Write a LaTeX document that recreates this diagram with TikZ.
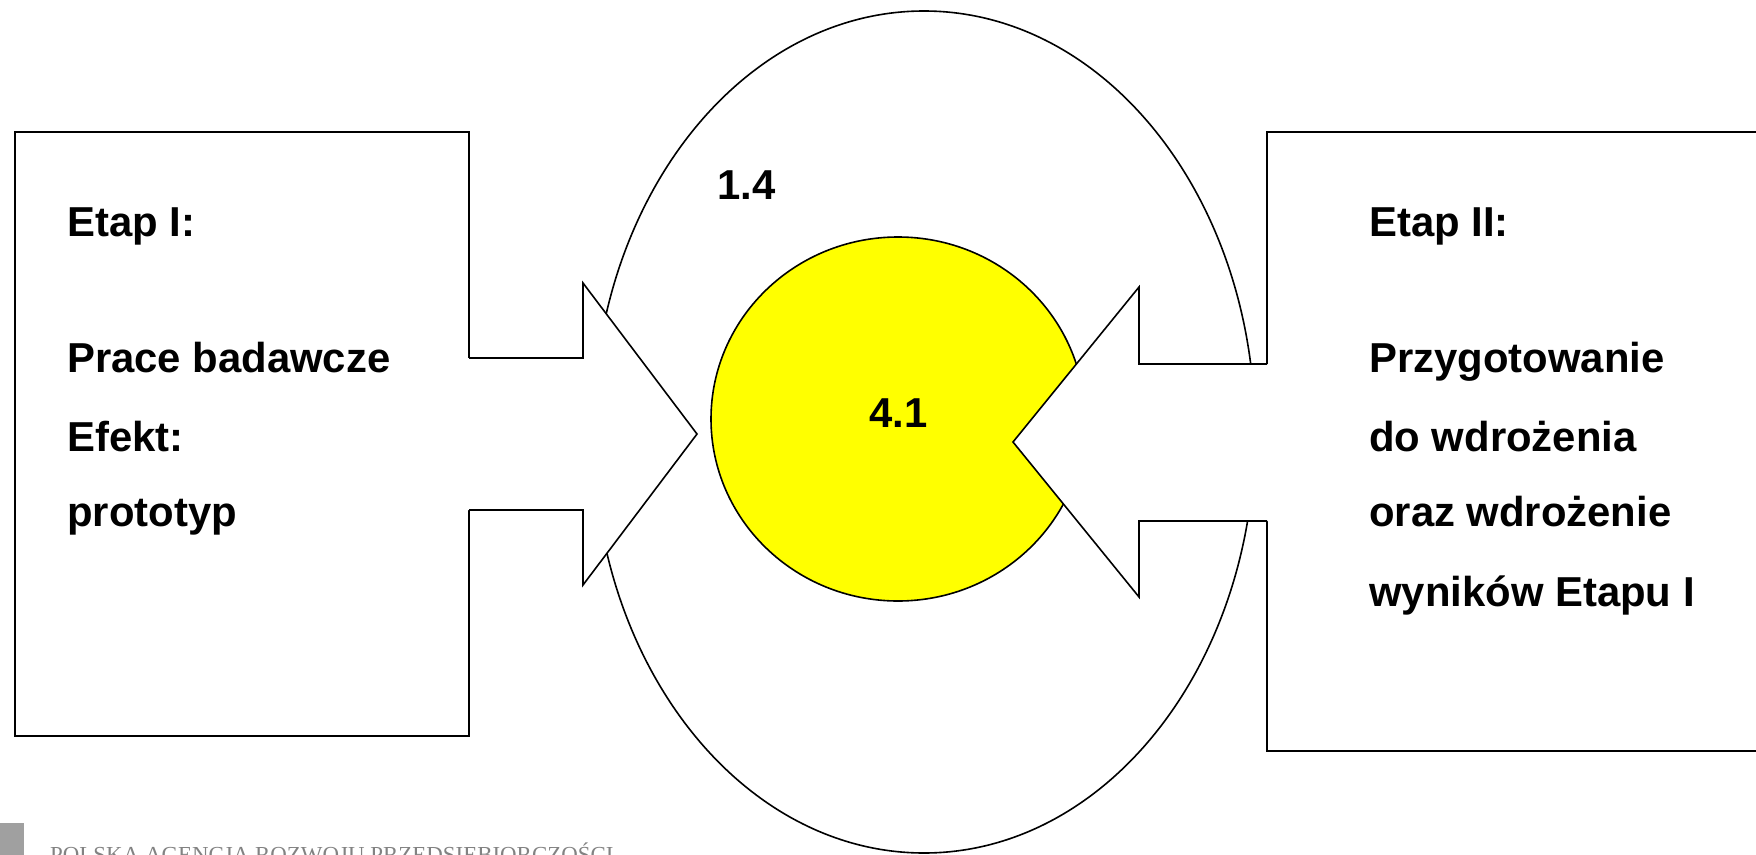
\documentclass[tikz,border=0pt]{standalone}
\usepackage{fontspec}
\setmainfont{Liberation Sans}
\newfontfamily\logofont{Liberation Serif}
\definecolor{logogray}{RGB}{160,160,160}
\definecolor{logotext}{RGB}{130,130,130}
\definecolor{pureyellow}{RGB}{255,255,0}
\tikzset{
  outline/.style={draw=black, line width=1.6bp, line join=miter},
  lbl/.style={font=\fontsize{42}{50}\selectfont\bfseries, anchor=base west, inner sep=0pt},
}
\begin{document}
\begin{tikzpicture}[x=1bp,y=-1bp]
\useasboundingbox (0,0) rectangle (1756,855);
\begin{scope}
\clip (0,0) rectangle (1756,855);
% large ellipse
\draw[outline] (924,432) ellipse [x radius=331, y radius=421];
% yellow circle
\draw[outline, fill=pureyellow] (898,419) ellipse [x radius=187, y radius=182];
% left box with arrow
\draw[outline, fill=white] (15,132) rectangle (469,736);
\fill[white] (465,358) -- (583,358) -- (583,283) -- (697,434) -- (583,585) -- (583,510) -- (465,510) -- cycle;
\draw[outline] (469,358) -- (583,358) -- (583,283) -- (697,434) -- (583,585) -- (583,510) -- (469,510);
% right box with arrow
\draw[outline, fill=white] (1267,132) rectangle (1800,751);
\fill[white] (1271,364) -- (1139,364) -- (1139,287) -- (1013,442) -- (1139,597) -- (1139,521) -- (1271,521) -- cycle;
\draw[outline] (1267,364) -- (1139,364) -- (1139,287) -- (1013,442) -- (1139,597) -- (1139,521) -- (1267,521);
% texts
\node[lbl] (e1) at (67,236) {Etap I:};
\node[lbl] (e2) at (67,372) {Prace badawcze};
\node[lbl] (e3) at (67,451) {Efekt:};
\node[lbl] (e4) at (67,526) {prototyp};
\node[lbl] (r1) at (1369,236) {Etap II:};
\node[lbl] (r2) at (1369,372) {Przygotowanie};
\node[lbl] (r3) at (1369,451) {do wdrożenia};
\node[lbl] (r4) at (1369,526) {oraz wdrożenie};
\node[lbl] (r5) at (1369,606) {wyników Etapu I};
\node[lbl] (n14) at (717,199) {1.4};
\node[lbl] (n41) at (869,427) {4.1};
% logo fragment
\fill[logogray] (0,823) rectangle (24,860);
\node[anchor=base west, inner sep=0pt, text=logotext, font=\logofont\fontsize{23}{23}\selectfont] (logo) at (50,862) {POLSKA AGENCJA ROZWOJU PRZEDSIĘBIORCZOŚCI};
\end{scope}
\end{tikzpicture}
\end{document}
